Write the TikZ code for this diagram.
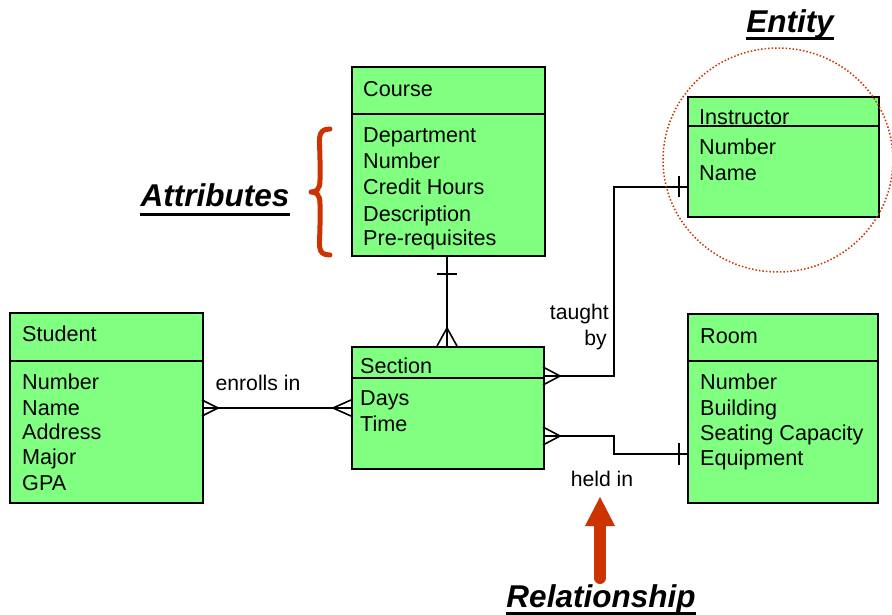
\documentclass[tikz,border=0pt]{standalone}
\usepackage{fontspec}
\setmainfont{Liberation Sans}
\usetikzlibrary{arrows.meta}
\definecolor{boxgreen}{HTML}{80FF80}
\definecolor{accent}{HTML}{CC3300}
\begin{document}
\begin{tikzpicture}[x=1pt,y=-1pt,
  ebox/.style={draw=black, line width=1.6pt, fill=boxgreen, inner sep=0pt, anchor=north west},
  txt/.style={font=\fontsize{21.6}{25}\selectfont, inner sep=0pt, anchor=base west},
  lbl/.style={font=\fontsize{21.2}{24}\selectfont, inner sep=0pt},
  ttl/.style={font=\fontsize{31.5}{36}\selectfont\bfseries\itshape, inner sep=0pt, anchor=base},
  conn/.style={draw=black, line width=1.6pt},
  uline/.style={draw=black, line width=3pt}
]
\useasboundingbox (0,0) rectangle (892,615);

% ---------- Entity boxes ----------
\node[ebox, minimum width=193pt, minimum height=189pt] (course) at (351,66) {};
\node[ebox, minimum width=191pt, minimum height=120pt] (instr) at (687,96) {};
\node[ebox, minimum width=193pt, minimum height=190pt] (student) at (9,312) {};
\node[ebox, minimum width=192pt, minimum height=122pt] (section) at (351,346) {};
\node[ebox, minimum width=190pt, minimum height=189pt] (room) at (687,313) {};

% header lines
\draw[conn] ([yshift=-48pt]course.north west) -- ([yshift=-48pt]course.north east);
\draw[conn] ([yshift=-30pt]instr.north west) -- ([yshift=-30pt]instr.north east);
\draw[conn] ([yshift=-49pt]student.north west) -- ([yshift=-49pt]student.north east);
\draw[conn] ([yshift=-32pt]section.north west) -- ([yshift=-32pt]section.north east);
\draw[conn] ([yshift=-48pt]room.north west) -- ([yshift=-48pt]room.north east);

% ---------- Box texts ----------
\node[txt] (courseH) at (363,97) {Course};
\node[txt] (course1) at (363,143) {Department};
\node[txt] (course2) at (363,169) {Number};
\node[txt] (course3) at (363,195) {Credit Hours};
\node[txt] (course4) at (363,221) {Description};
\node[txt] (course5) at (363,245) {Pre-requisites};

\node[txt] (instrH) at (699,125) {Instructor};
\node[txt] (instr1) at (699,155) {Number};
\node[txt] (instr2) at (699,181) {Name};

\node[txt] (studentH) at (22,341) {Student};
\node[txt] (student1) at (22,389) {Number};
\node[txt] (student2) at (22,415) {Name};
\node[txt] (student3) at (22,439) {Address};
\node[txt] (student4) at (22,464) {Major};
\node[txt] (student5) at (22,490) {GPA};

\node[txt] (sectionH) at (360,373) {Section};
\node[txt] (section1) at (360,405) {Days};
\node[txt] (section2) at (360,431) {Time};

\node[txt] (roomH) at (700,343) {Room};
\node[txt] (room1) at (700,389) {Number};
\node[txt] (room2) at (700,415) {Building};
\node[txt] (room3) at (700,440) {Seating Capacity};
\node[txt] (room4) at (700,465) {Equipment};

% ---------- Connectors ----------
% Course -- Section (one to many)
\coordinate (cs1) at (447,255);
\coordinate (cs2) at (447,346);
\draw[conn] (cs1) -- (cs2);
\draw[conn] (437,274) -- (457,274);
\draw[conn] (437,346) -- (447,328) -- (457,346);

% Student -- Section (many to many)
\coordinate (ss1) at (202,408);
\coordinate (ss2) at (351,408);
\draw[conn] (ss1) -- (ss2);
\draw[conn] (202,400) -- (218,408) -- (202,416);
\draw[conn] (351,400) -- (333,408) -- (351,416);

% Section -- Instructor (taught by)
\coordinate (tb1) at (543,376);
\coordinate (tb2) at (614,376);
\coordinate (tb3) at (614,187);
\coordinate (tb4) at (687,187);
\draw[conn] (tb1) -- (tb2) -- (tb3) -- (tb4);
\draw[conn] (543,367) -- (560,376) -- (543,385);
\draw[conn] (679,176) -- (679,197);

% Section -- Room (held in)
\coordinate (hi1) at (543,436);
\coordinate (hi2) at (614,436);
\coordinate (hi3) at (614,454);
\coordinate (hi4) at (687,454);
\draw[conn] (hi1) -- (hi2) -- (hi3) -- (hi4);
\draw[conn] (543,427) -- (560,436) -- (543,445);
\draw[conn] (679,443) -- (679,465);

% connector labels
\node[lbl, anchor=base] (enrolls) at (258,390) {enrolls in};
\node[lbl, anchor=base east] (taught) at (609,319) {taught};
\node[lbl, anchor=base east] (by) at (607,345) {by};
\node[lbl, anchor=base] (held) at (602,486) {held in};

% ---------- Annotations ----------
% dotted circle round Instructor
\draw[accent, line width=1.5pt, dotted] (778,160) ellipse [x radius=115, y radius=112];

% brace
\draw[accent, line width=5pt, line cap=round, line join=round]
  (330,129) .. controls (316,129) and (320,140) .. (320,160)
  -- (320,180) .. controls (320,190) and (316,192) .. (311,192)
  .. controls (316,192) and (320,194) .. (320,204)
  -- (320,225) .. controls (320,245) and (316,255) .. (330,255);

% arrow up to "held in"
\draw[accent, line width=12pt, line cap=round] (600,578) -- (600,520);
\fill[accent] (585,526) -- (600,497) -- (615,526) -- cycle;

% titles
\node[ttl] (entity) at (790,33) {Entity};
\draw[uline] ([yshift=-6pt]entity.base west) -- ([yshift=-6pt]entity.base east);
\node[ttl] (attr) at (215,207) {Attributes};
\draw[uline] ([yshift=-7pt]attr.base west) -- ([yshift=-7pt]attr.base east);
\node[ttl] (rel) at (601,607) {Relationship};
\draw[uline] ([yshift=-6pt]rel.base west) -- ([yshift=-6pt]rel.base east);
\end{tikzpicture}
\end{document}
